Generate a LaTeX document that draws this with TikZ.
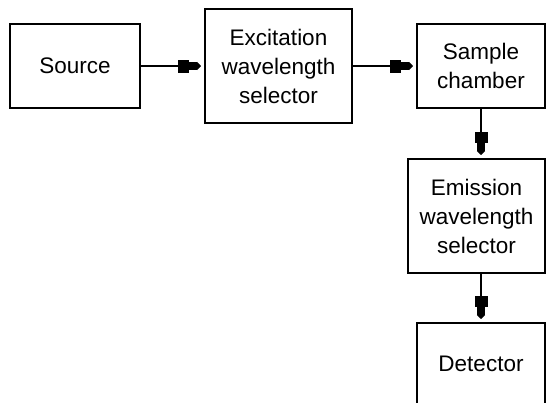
\documentclass[tikz,border=0pt]{standalone}
\usepackage{fontspec}
\setmainfont{Liberation Sans}
\usetikzlibrary{arrows.meta,positioning}

\begin{document}
\begin{tikzpicture}[x=1pt,y=-1pt,font=\fontsize{22.5}{29}\selectfont,
  block/.style={draw,line width=2pt,align=center,inner sep=0pt},
  flow/.style={line width=1.5pt,shorten >=3pt,
    -{Rectangle[length=11pt,width=13pt]Rectangle[length=8pt,width=8pt]Triangle[length=4pt,width=8pt]}}]
\useasboundingbox (0,0) rectangle (546,402);
\clip (0,0) rectangle (546,402);
\node[block,minimum width=130,minimum height=84] (source) at (75,66) {Source};
\node[block,minimum width=147,minimum height=114] (exsel) at (278.5,66) {Excitation\\wavelength\\selector};
\node[block,minimum width=128,minimum height=84] (sample) at (481,66) {Sample\\chamber};
\node[block,minimum width=137,minimum height=114] (emsel) at (476.5,216) {Emission\\wavelength\\selector};
\node[block,minimum width=128,minimum height=82] (detector) at (481,364) {Detector};
\draw[flow] (source) -- (exsel);
\draw[flow] (exsel) -- (sample);
\draw[flow] (sample.south) -- (sample.south |- emsel.north);
\draw[flow] (emsel.south -| detector.north) -- (detector.north);
\end{tikzpicture}
\end{document}
